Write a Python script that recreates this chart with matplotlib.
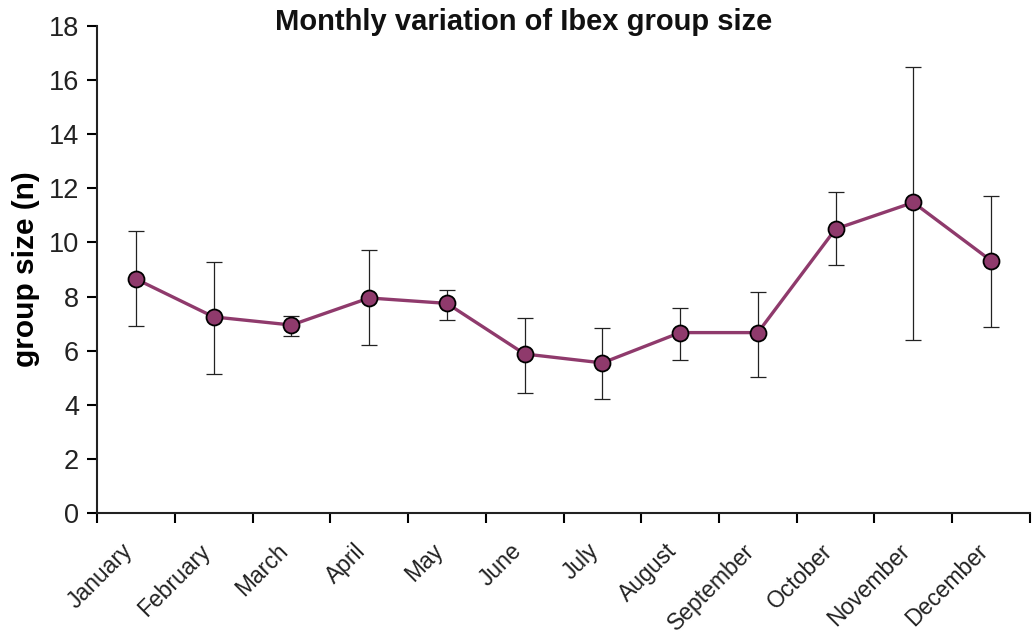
import matplotlib
matplotlib.use('Agg')
import matplotlib.pyplot as plt
import matplotlib.transforms as mtransforms
import numpy as np

plt.rcParams['font.family'] = ['Liberation Sans', 'DejaVu Sans']

months = ['January', 'February', 'March', 'April', 'May', 'June', 'July',
          'August', 'September', 'October', 'November', 'December']
group_size = [8.65, 7.25, 6.95, 7.95, 7.75, 5.88, 5.55, 6.67, 6.67, 10.5, 11.48, 9.33]
err_upper = [10.42, 9.28, 7.28, 9.72, 8.24, 7.21, 6.84, 7.58, 8.17, 11.87, 16.49, 11.72]
err_lower = [6.91, 5.14, 6.54, 6.21, 7.13, 4.45, 4.21, 5.66, 5.03, 9.17, 6.40, 6.89]

mean = np.array(group_size)
yerr = [mean - np.array(err_lower), np.array(err_upper) - mean]
x = np.arange(len(months))

fig = plt.figure(figsize=(10.33, 6.35), dpi=100)
ax = fig.add_axes([0.094, 0.192, 0.903, 0.767])

ax.errorbar(x, mean, yerr=yerr, fmt='none', ecolor='#222222', elinewidth=0.9,
            capsize=5.5, capthick=0.9, zorder=2)
ax.plot(x, mean, color='#8f3a6c', linewidth=2.4, marker='o', markersize=11.5,
        markerfacecolor='#8f3a6c', markeredgecolor='black', markeredgewidth=1.3, zorder=3)

ax.set_xlim(-0.5, 11.5)
ax.set_ylim(0, 18)
ax.set_yticks(range(0, 19, 2))
# boundary ticks between months, names centred under each point
ax.set_xticks(np.arange(-0.5, 12, 1), minor=False)
ax.set_xticklabels([])
ax.set_xticks(x, minor=True)
ax.set_xticklabels(months, minor=True, rotation=45, ha='right', rotation_mode='anchor',
                   fontsize=16.5, color='#222222')
ax.tick_params(axis='x', which='minor', length=0, pad=19)
ax.tick_params(axis='x', which='major', length=7, width=1.5, direction='out')
ax.tick_params(axis='y', length=7, width=1.5, labelsize=19.5, labelcolor='#222222', pad=6)

shift = mtransforms.ScaledTranslation(-0.15, 0, fig.dpi_scale_trans)
for lbl in ax.get_xticklabels(minor=True):
    lbl.set_transform(lbl.get_transform() + shift)

for side in ['top', 'right']:
    ax.spines[side].set_visible(False)
for side in ['left', 'bottom']:
    ax.spines[side].set_linewidth(1.5)
    ax.spines[side].set_color('#222222')

ax.set_ylabel('group size (n)', fontsize=21.5, fontweight='bold', labelpad=6.5)
fig.text(0.507, 0.966, 'Monthly variation of Ibex group size', fontsize=21,
         fontweight='bold', ha='center', va='center', color='#111111')

fig.savefig('out.png', dpi=100)
